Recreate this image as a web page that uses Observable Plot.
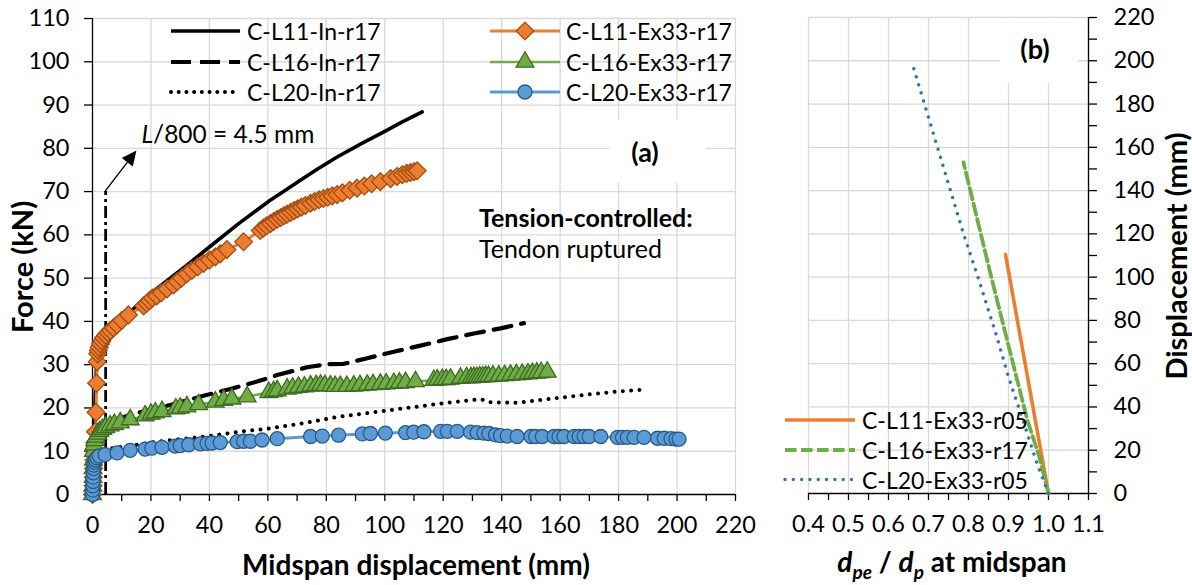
<!DOCTYPE html>
<html>
<head>
<meta charset="utf-8">
<script src="https://cdn.jsdelivr.net/npm/d3@7"></script>
<script src="https://cdn.jsdelivr.net/npm/@observablehq/plot@0.6"></script>
<style>
  html, body { margin: 0; padding: 0; background: #fff; overflow: hidden; }
  #wrap { position: relative; width: 1192px; height: 585px; }
  #wrap > svg { position: absolute; top: 0; }
</style>
</head>
<body>
<div id="wrap"></div>
<script>
// ---------- (a) Force vs. midspan displacement: [displacement mm, force kN] ----------
const l11In = [[0,0],[0.3,8],[0.6,16],[1,24],[1.4,30],[2,33.5],[3,35.5],[5,37.5],[10,40.5],[20,46.5],[32.3,53],[40,57.2],[50,62.6],[60.8,68],[66,70.3],[71.1,72.6],[77,75.2],[83.7,78],[92,81.1],[99.7,83.8],[106,86.1],[112.8,88.4]];
const l16In = [[0,0],[0.5,8],[1,13],[2,15.5],[4,16.5],[8,17.3],[15,18.8],[26.6,20.7],[38,22.8],[47.2,24.4],[56.3,26.1],[63.2,27.6],[73.4,29.4],[80,30.1],[86,30.2],[94,31.5],[103.1,33],[112.2,34.4],[121.4,35.9],[130.5,37.2],[139.6,38.4],[147.6,39.6]];
const l20In = [[0,0],[0.5,6],[1,9],[3,10.3],[10,11],[20,12],[30,12.8],[40,13.5],[50,14.5],[60,15.2],[72.3,16.5],[83.7,17.9],[95.1,18.9],[106.5,19.9],[118,20.9],[129.3,21.8],[133,22],[136,21.3],[145.3,21.2],[156.7,22.1],[168.1,23],[179.6,23.8],[188.1,24.2]];
const l11Ex = [[0,0],[0.2,2],[0.3,4],[0.4,6],[0.5,8],[0.6,10],[0.8,12],[1,14.5],[1.2,19],[1.4,25.7],[1.6,30.7],[1.8,32.5],[2,33.3],[2.3,34],[2.7,34.8],[3.2,35.5],[3.8,36.2],[4.5,36.8],[5.3,37.4],[6.1,37.9],[7.2,38.5],[8.4,39.2],[10,40.2],[12.3,41.5],[17.5,43.6],[18.6,44.2],[19.5,44.8],[20.5,45.4],[22,45.9],[23.5,46.6],[25.5,47.5],[27.7,48.4],[29,49.2],[30.5,50],[32.3,51],[34,51.8],[36,52.6],[38,53.4],[40,54.2],[42,54.9],[43.7,55.6],[46,56.6],[51.7,58.4],[57.4,61],[58.5,61.6],[59.6,62.1],[60.9,62.6],[62,63.1],[63.2,63.6],[64.4,64],[65.5,64.4],[66.6,64.8],[67.8,65.2],[69,65.6],[70.2,66],[71.5,66.4],[72.8,66.8],[74.6,67.3],[76,67.7],[77.5,68.1],[79,68.4],[80.5,68.7],[82,69],[83.7,69.3],[85.5,69.7],[88,70.3],[90.5,70.8],[93,71.3],[95.5,71.8],[98.5,72.3],[102,73],[104.2,73.5],[106,73.9],[107.5,74.2],[108.8,74.4],[110,74.6],[111.1,74.8]];
const l16Ex = [[0,0],[0.1,2],[0.2,4],[0.2,6],[0.3,8],[0.3,10],[0.5,11.5],[0.8,12.5],[1.2,13.3],[1.8,14],[2.5,14.6],[3.5,15.1],[4.5,15.5],[6,15.9],[7.5,16.2],[9.5,16.6],[12.9,17.3],[18,18.2],[20,18.6],[21.5,18.9],[23.8,19.2],[28.5,19.8],[30,20],[32.3,20.3],[36.3,20.8],[42,21.4],[44.9,21.8],[47.7,22.1],[52.9,22.6],[60.3,23.6],[62,23.8],[63.2,24],[66.6,24.4],[68.5,24.6],[70.5,24.8],[72.5,24.9],[74.6,25.1],[76.5,25.2],[78,25.3],[79.5,25.2],[81.4,25.1],[83,25],[84.8,25],[87,25],[89.4,25.1],[91.5,25.2],[94,25.3],[96,25.4],[98.5,25.5],[100.5,25.6],[103.1,25.7],[105,25.8],[107.1,25.9],[110.5,26.1],[116.8,26.4],[118,26.5],[119.7,26.6],[121,26.6],[122.5,26.7],[125.9,26.9],[128,27],[129.5,27],[130.5,27.1],[131.5,27.1],[132.5,27.2],[133.5,27.2],[134.5,27.3],[135.5,27.3],[137,27.4],[139,27.4],[141,27.5],[143,27.6],[145,27.7],[147,27.8],[149,27.9],[150.5,28],[152,28.1],[153.5,28.2],[155.6,28.3]];
const l20Ex = [[0,0],[0.1,1],[0.1,2],[0.2,3],[0.2,4],[0.3,5],[0.4,6],[0.5,6.8],[0.7,7.5],[1,8],[1.5,8.5],[2.3,8.9],[4.3,9.2],[8.4,9.6],[12.9,10.2],[18,10.5],[20.3,10.7],[23.8,10.9],[28.3,11.2],[30,11.3],[32.9,11.5],[36.9,11.7],[39.2,11.8],[40.9,11.9],[43.7,12],[49.5,12.2],[51.7,12.3],[54,12.3],[58,12.6],[63.2,12.9],[74.6,13.4],[78.6,13.5],[84.2,13.7],[92.3,14],[95.1,14.1],[100.2,14.2],[107.1,14.3],[109.9,14.4],[113.4,14.5],[119.1,14.6],[121.4,14.6],[124.8,14.6],[129.3,14.4],[131.6,14.3],[133.9,14.2],[135.6,14.1],[137.9,13.8],[139.6,13.6],[141.9,13.5],[145.3,13.4],[150,13.4],[151.6,13.4],[153.9,13.4],[157.9,13.4],[159.6,13.4],[161.3,13.4],[164.8,13.4],[166.5,13.4],[168.2,13.4],[169.9,13.4],[173.9,13.4],[179.6,13.2],[181.3,13.2],[183,13.2],[185.3,13.2],[188.7,13.2],[193.3,13],[195.6,13],[197.9,12.9],[199.6,12.8],[200.7,12.8]];

// Serviceability limit L/800 and its call-out arrow (mm, kN)
const serviceLimit = 4.5;
const serviceTop = 70;
const arrowTip = [15.2, 79.4];

// ---------- (b) d_pe/d_p vs. displacement: [ratio, displacement mm] ----------
const l11r05 = [[1.0,0],[0.8925,110.5]];
const l16r17 = [[1.0,0],[0.977,17],[0.947,34],[0.905,64.7],[0.857,100],[0.7875,153]];
const l20r05 = [[1.0,0],[0.971,13.9],[0.9335,35.4],[0.9,53.9],[0.871,72.3],[0.821,101.6],[0.7875,120],[0.7225,160],[0.6625,196.8]];

const legendA1 = ["C-L11-In-r17", "C-L16-In-r17", "C-L20-In-r17"];
const legendA2 = ["C-L11-Ex33-r17", "C-L16-Ex33-r17", "C-L20-Ex33-r17"];
const legendB = ["C-L11-Ex33-r05", "C-L16-Ex33-r17", "C-L20-Ex33-r05"];

// label boxes that mask the grid (data units)
const boxA = [{x1: 177, x2: 210, y1: 72, y2: 86.5}];
const boxB = [{x1: 0.879, x2: 1.075, y1: 189.5, y2: 219.3}];

const FONT = "Lato, 'Open Sans', sans-serif";
const GRID = "#d9d9d9";
const ORANGE = "#ED7D31", ORANGE_D = "#A24E12";
const GREEN = "#70AD47", GREEN_D = "#3E6B22";
const BLUE = "#5B9BD5", BLUE_D = "#2A5A86";
const BLUE_DOT = "#2E75B6";

// marker radii (Plot symbol r)
const R_DIAMOND = 8, R_TRIANGLE = 6.6, R_CIRCLE = 7;

const rows = pts => pts.map(([x, y]) => ({x, y}));

const gridStyle = {stroke: GRID, strokeOpacity: 1, strokeWidth: 1.3};

const chartA = Plot.plot({
  width: 760, height: 585,
  marginLeft: 92, marginRight: 25, marginTop: 18, marginBottom: 91,
  style: {fontFamily: FONT, fontSize: "23.5px", color: "#000", background: "transparent"},
  x: {domain: [0, 220]},
  y: {domain: [0, 110]},
  marks: [
    Plot.gridX(d3.range(20, 221, 20), gridStyle),
    Plot.gridY(d3.range(10, 111, 10), gridStyle),
    Plot.rect(boxA, {x1: "x1", x2: "x2", y1: "y1", y2: "y2", fill: "white"}),
    Plot.axisY({ticks: d3.range(0, 111, 10), tickSize: 8, tickPadding: 15, label: null, strokeWidth: 1.3}),
    Plot.axisX({ticks: d3.range(0, 221, 10), tickSize: 7, tickPadding: 15, label: null, strokeWidth: 1.3,
      tickFormat: d => d % 20 === 0 ? String(d) : ""}),
    Plot.ruleX([0], {strokeWidth: 1.3}),
    Plot.ruleY([0], {strokeWidth: 1.3}),
    Plot.line(rows(l11In), {x: "x", y: "y", stroke: "#000", strokeWidth: 3.6}),
    Plot.line(rows(l16In), {x: "x", y: "y", stroke: "#000", strokeWidth: 4.2, strokeDasharray: "18 10"}),
    Plot.line(rows(l20In), {x: "x", y: "y", stroke: "#000", strokeWidth: 4, strokeDasharray: "0.01 8.3", strokeLinecap: "round"}),
    Plot.ruleX([serviceLimit], {y1: 0, y2: serviceTop, stroke: "#000", strokeWidth: 2.8, strokeDasharray: "12 4 3 4"}),
    Plot.line(rows(l11Ex), {x: "x", y: "y", stroke: ORANGE, strokeWidth: 3}),
    Plot.dot(rows(l11Ex), {x: "x", y: "y", symbol: "diamond2", r: R_DIAMOND, fill: ORANGE, stroke: ORANGE_D, strokeWidth: 1.3}),
    Plot.line(rows(l16Ex), {x: "x", y: "y", stroke: GREEN, strokeWidth: 2.6}),
    Plot.dot(rows(l16Ex), {x: "x", y: "y", symbol: "triangle", r: R_TRIANGLE, fill: GREEN, stroke: GREEN_D, strokeWidth: 1.3}),
    Plot.line(rows(l20Ex), {x: "x", y: "y", stroke: BLUE, strokeWidth: 3}),
    Plot.dot(rows(l20Ex), {x: "x", y: "y", symbol: "circle", r: R_CIRCLE, fill: BLUE, stroke: BLUE_D, strokeWidth: 1.3})
  ]
});

const chartB = Plot.plot({
  width: 432, height: 585,
  marginLeft: 48, marginRight: 104, marginTop: 17, marginBottom: 92,
  style: {fontFamily: FONT, fontSize: "23.5px", color: "#000", background: "transparent"},
  x: {domain: [0.4, 1.1]},
  y: {domain: [0, 220]},
  marks: [
    Plot.gridX(d3.range(4, 12).map(i => i / 10), gridStyle),
    Plot.gridY(d3.range(20, 221, 20), gridStyle),
    Plot.rect(boxB, {x1: "x1", x2: "x2", y1: "y1", y2: "y2", fill: "white"}),
    Plot.axisX({ticks: d3.range(8, 23).map(i => i / 20), tickSize: 7, tickPadding: 15, label: null, strokeWidth: 1.3,
      tickFormat: d => Math.round(d * 20) % 2 === 0 ? d.toFixed(1) : ""}),
    Plot.axisY({anchor: "right", ticks: d3.range(0, 221, 10), tickSize: 8, tickPadding: 17, label: null, strokeWidth: 1.3,
      tickFormat: d => d % 20 === 0 ? String(d) : ""}),
    Plot.ruleX([1.1], {strokeWidth: 1.3}),
    Plot.ruleY([0], {strokeWidth: 1.3}),
    Plot.line(rows(l11r05), {x: "x", y: "y", stroke: ORANGE, strokeWidth: 3.6}),
    Plot.line(rows(l16r17), {x: "x", y: "y", stroke: GREEN, strokeWidth: 3.8, strokeDasharray: "11.5 4.5"}),
    Plot.line(rows(l20r05), {x: "x", y: "y", stroke: BLUE_DOT, strokeWidth: 3.4, strokeDasharray: "0.01 8.4", strokeLinecap: "round"})
  ]
});

const wrap = document.getElementById("wrap");
chartA.style.left = "0px";
chartB.style.left = "760px";
wrap.append(chartA, chartB);

// ---------- annotations & legends ----------
const svgA = d3.select(chartA);
const svgB = d3.select(chartB);
const sA = chartA.scale("x"), tA = chartA.scale("y");
const fx = d3.scaleLinear(sA.domain, sA.range);
const fy = d3.scaleLinear(tA.domain, tA.range);

function label(svg, x, y, txt, opts = {}) {
  return svg.append("text")
    .attr("x", x).attr("y", y)
    .attr("font-family", FONT)
    .attr("font-size", opts.size || 22)
    .attr("font-weight", opts.bold ? "bold" : "normal")
    .attr("text-anchor", opts.anchor || "start")
    .attr("dominant-baseline", opts.baseline || "alphabetic")
    .attr("transform", opts.rotate ? `rotate(${opts.rotate},${x},${y})` : null)
    .attr("fill", "#000")
    .text(txt);
}

// call-out arrow for L/800
{
  const x0 = fx(serviceLimit), y0 = fy(serviceTop);
  const x1 = fx(arrowTip[0]), y1 = fy(arrowTip[1]);
  const dx = x1 - x0, dy = y1 - y0, len = Math.hypot(dx, dy);
  const ux = dx / len, uy = dy / len;
  const head = 15, half = 7;
  const bx = x1 - ux * head, by = y1 - uy * head;
  svgA.append("line").attr("x1", x0).attr("y1", y0).attr("x2", bx).attr("y2", by)
    .attr("stroke", "#000").attr("stroke-width", 1.4);
  svgA.append("path")
    .attr("d", `M${x1},${y1}L${bx - uy * half},${by + ux * half}L${bx + uy * half},${by - ux * half}Z`)
    .attr("fill", "#000");
  const t = svgA.append("text").attr("x", x1 + 5).attr("y", y1 - 7.5)
    .attr("text-anchor", "start")
    .attr("font-family", FONT).attr("font-size", 24.5).attr("fill", "#000");
  t.append("tspan").attr("font-style", "italic").text("L");
  t.append("tspan").text("/800 = 4.5 mm");
}

label(svgA, 645, 151, "(a)", {size: 27, bold: true, anchor: "middle", baseline: "central"});
label(svgA, 479, 227, "Tension-controlled:", {size: 25, bold: true});
label(svgA, 479, 258, "Tendon ruptured", {size: 25});
label(svgA, 416, 575, "Midspan displacement (mm)", {size: 28, bold: true, anchor: "middle"});
label(svgA, 21, 267, "Force (kN)", {size: 29, bold: true, anchor: "middle", baseline: "central", rotate: -90});

// legend, panel (a): reference lines
const rowsA = [31, 62, 92];
legendA1.forEach((name, i) => {
  const y = rowsA[i];
  const ln = svgA.append("line").attr("x1", 171).attr("x2", 240).attr("y1", y).attr("y2", y)
    .attr("stroke", "#000");
  if (i === 0) ln.attr("stroke-width", 3.6);
  if (i === 1) ln.attr("stroke-width", 4.2).attr("stroke-dasharray", "20 9");
  if (i === 2) ln.attr("stroke-width", 4).attr("stroke-dasharray", "0.01 7.7").attr("stroke-linecap", "round");
  label(svgA, 247, y, name, {size: 23, baseline: "central"});
});
// legend, panel (a): marker series
const legendMarks = [[ORANGE, ORANGE_D, d3.symbolDiamond2, R_DIAMOND, 3], [GREEN, GREEN_D, d3.symbolTriangle, R_TRIANGLE, 2.6], [BLUE, BLUE_D, d3.symbolCircle, R_CIRCLE, 3]];
legendA2.forEach((name, i) => {
  const y = rowsA[i];
  const [fill, stroke, sym, r, w] = legendMarks[i];
  svgA.append("line").attr("x1", 490).attr("x2", 560).attr("y1", y).attr("y2", y)
    .attr("stroke", fill).attr("stroke-width", w);
  svgA.append("path").attr("d", d3.symbol(sym, Math.PI * r * r)())
    .attr("transform", `translate(525,${y})`).attr("fill", fill).attr("stroke", stroke).attr("stroke-width", 1.3);
  label(svgA, 566, y, name, {size: 23, baseline: "central"});
});

// panel (b) texts
label(svgB, 275, 48, "(b)", {size: 27, bold: true, anchor: "middle", baseline: "central"});
label(svgB, 415, 256, "Displacement (mm)", {size: 29, bold: true, anchor: "middle", baseline: "central", rotate: -90});
{
  const t = svgB.append("text").attr("x", 192).attr("y", 572).attr("text-anchor", "middle")
    .attr("font-family", FONT).attr("font-size", 28).attr("font-weight", "bold").attr("fill", "#000");
  t.append("tspan").attr("font-style", "italic").text("d");
  t.append("tspan").attr("font-style", "italic").attr("font-size", 19).attr("dy", 7).text("pe");
  t.append("tspan").attr("dy", -7).text(" / ");
  t.append("tspan").attr("font-style", "italic").text("d");
  t.append("tspan").attr("font-style", "italic").attr("font-size", 19).attr("dy", 7).text("p");
  t.append("tspan").attr("dy", -7).text(" at midspan");
}
const rowsB = [420, 450, 479.5];
legendB.forEach((name, i) => {
  const y = rowsB[i];
  const ln = svgB.append("line").attr("x1", 25).attr("x2", 95).attr("y1", y).attr("y2", y);
  if (i === 0) ln.attr("stroke", ORANGE).attr("stroke-width", 3.6);
  if (i === 1) ln.attr("stroke", GREEN).attr("stroke-width", 3.8).attr("stroke-dasharray", "11.5 4.5");
  if (i === 2) ln.attr("stroke", BLUE_DOT).attr("stroke-width", 3.4).attr("stroke-dasharray", "0.01 8.3").attr("stroke-linecap", "round");
  label(svgB, 102, y, name, {size: 23, baseline: "central"});
});
</script>
</body>
</html>
